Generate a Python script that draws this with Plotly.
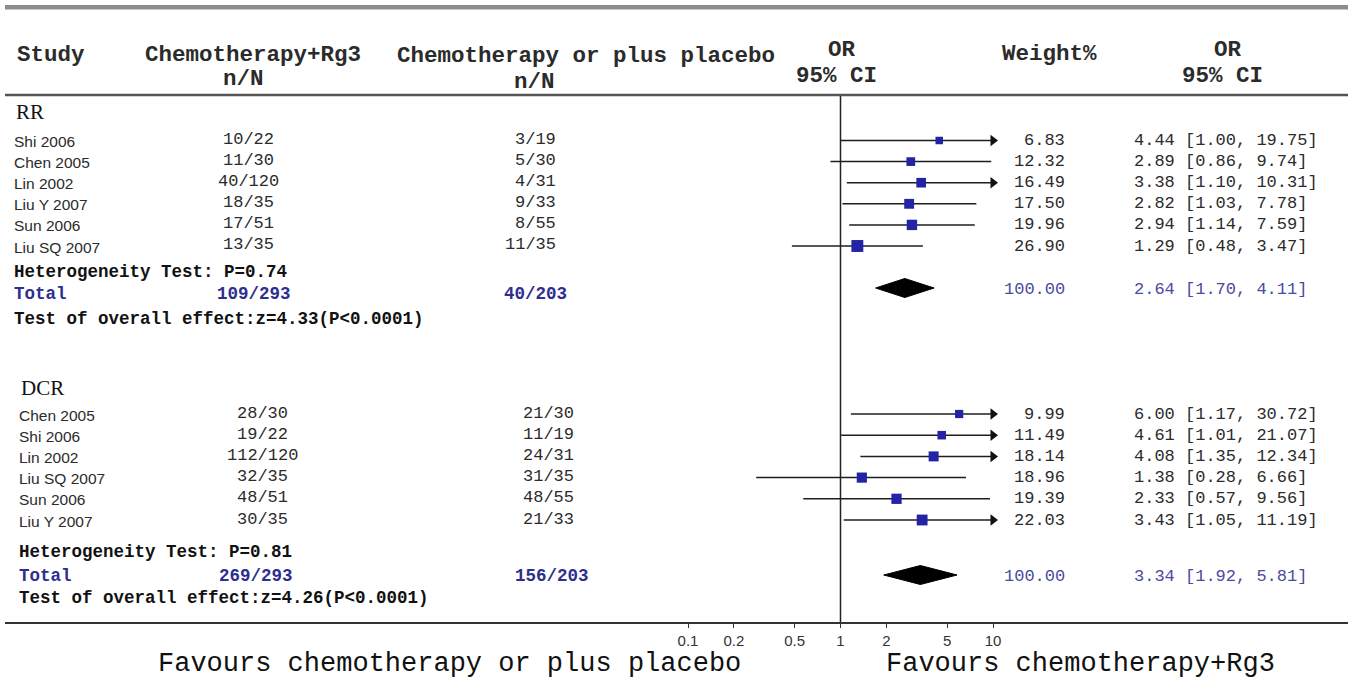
import plotly.graph_objects as go

# ---------------- data ----------------
rr_studies = ["Shi 2006", "Chen 2005", "Lin 2002", "Liu Y 2007", "Sun 2006", "Liu SQ 2007"]
rr_rg3_n = [10, 11, 40, 18, 17, 13]
rr_rg3_N = [22, 30, 120, 35, 51, 35]
rr_ctl_n = [3, 5, 4, 9, 8, 11]
rr_ctl_N = [19, 30, 31, 33, 55, 35]
rr_weight = [6.83, 12.32, 16.49, 17.50, 19.96, 26.90]
rr_or = [4.44, 2.89, 3.38, 2.82, 2.94, 1.29]
rr_lo = [1.00, 0.86, 1.10, 1.03, 1.14, 0.48]
rr_hi = [19.75, 9.74, 10.31, 7.78, 7.59, 3.47]
rr_total_rg3 = "109/293"
rr_total_ctl = "40/203"
rr_total = [2.64, 1.70, 4.11]
rr_het_p = "0.74"
rr_z = "4.33"

dcr_studies = ["Chen 2005", "Shi 2006", "Lin 2002", "Liu SQ 2007", "Sun 2006", "Liu Y 2007"]
dcr_rg3_n = [28, 19, 112, 32, 48, 30]
dcr_rg3_N = [30, 22, 120, 35, 51, 35]
dcr_ctl_n = [21, 11, 24, 31, 48, 21]
dcr_ctl_N = [30, 19, 31, 35, 55, 33]
dcr_weight = [9.99, 11.49, 18.14, 18.96, 19.39, 22.03]
dcr_or = [6.00, 4.61, 4.08, 1.38, 2.33, 3.43]
dcr_lo = [1.17, 1.01, 1.35, 0.28, 0.57, 1.05]
dcr_hi = [30.72, 21.07, 12.34, 6.66, 9.56, 11.19]
dcr_total_rg3 = "269/293"
dcr_total_ctl = "156/203"
dcr_total = [3.34, 1.92, 5.81]
dcr_het_p = "0.81"
dcr_z = "4.26"

tick_vals = [0.1, 0.2, 0.5, 1, 2, 5, 10]
tick_text = ["0.1", "0.2", "0.5", "1", "2", "5", "10"]
x_clip = 10

# ---------------- layout helpers ----------------
W, H = 1348, 683
L_M = 5
AX_Y = 622          # pixel row of the x-axis line
MONO = "Liberation Mono, DejaVu Sans Mono, monospace"
SANS = "Liberation Sans, Arial, sans-serif"
SERIF = "Liberation Serif, Times New Roman, serif"
DARK = "#2b2b2b"
NAVY = "#2e2e8e"
NAVY2 = "#4a4a9e"
SQ = "#2323a6"

annotations = []


def T(text, X, Y, size, family=MONO, color=DARK, bold=False, anchor="left"):
    if bold:
        text = "<b>" + text + "</b>"
    annotations.append(dict(
        text=text, x=(X - L_M) / (W - L_M), y=(AX_Y - Y) / AX_Y,
        xref="paper", yref="paper", xanchor=anchor, yanchor="middle",
        showarrow=False, font=dict(size=size, family=family, color=color)))


fig = go.Figure()

# header
T("Study", 15, 55, 22.5, bold=True)
T("Chemotherapy+Rg3", 253, 55, 22.5, bold=True, anchor="center")
T("n/N", 243, 79, 22.5, bold=True, anchor="center")
T("Chemotherapy or plus placebo", 586, 56, 22.5, bold=True, anchor="center")
T("n/N", 534, 82, 22.5, bold=True, anchor="center")
T("OR", 842, 50, 22.5, bold=True, anchor="center")
T("95% CI", 836, 76, 22.5, bold=True, anchor="center")
T("Weight%", 1049, 54, 22.5, bold=True, anchor="center")
T("OR", 1228, 50, 22.5, bold=True, anchor="center")
T("95% CI", 1222, 76, 22.5, bold=True, anchor="center")

sections = [
    dict(label="RR", label_y=112, name_x=12, y0=140.5, step=21.1,
         studies=rr_studies, rn=rr_rg3_n, rN=rr_rg3_N, cn=rr_ctl_n, cN=rr_ctl_N,
         w=rr_weight, est=rr_or, lo=rr_lo, hi=rr_hi,
         rg3_x=248, rg3_anchor="center", ctl_x=558,
         het_y=272, tot_y=294, tot_rg3=rr_total_rg3, tot_ctl=rr_total_ctl,
         tot_rg3_x=254, tot_ctl_x=535, dia_y=288, total=rr_total,
         het=rr_het_p, z=rr_z, test_y=319),
    dict(label="DCR", label_y=388, name_x=17, y0=414, step=21.2,
         studies=dcr_studies, rn=dcr_rg3_n, rN=dcr_rg3_N, cn=dcr_ctl_n, cN=dcr_ctl_N,
         w=dcr_weight, est=dcr_or, lo=dcr_lo, hi=dcr_hi,
         rg3_x=262, rg3_anchor="center", ctl_x=576,
         het_y=552, tot_y=576, tot_rg3=dcr_total_rg3, tot_ctl=dcr_total_ctl,
         tot_rg3_x=256, tot_ctl_x=552, dia_y=575, total=dcr_total,
         het=dcr_het_p, z=dcr_z, test_y=598),
]

for s in sections:
    T(s["label"], s["name_x"] + 2, s["label_y"], 21, family=SERIF, color="#111")
    ys = [s["y0"] + s["step"] * i for i in range(len(s["studies"]))]
    lx, ly, ax_, ay_ = [], [], [], []
    for i, name in enumerate(s["studies"]):
        y = ys[i]
        T(name, s["name_x"], y + 1, 15.5, family=SANS, color=DARK)
        T(f"{s['rn'][i]}/{s['rN'][i]}", s["rg3_x"], y - 1, 17, color=DARK, anchor=s["rg3_anchor"])
        T(f"{s['cn'][i]}/{s['cN'][i]}", s["ctl_x"], y - 1, 17, color=DARK, anchor="right")
        T(f"{s['w'][i]:.2f}", 1067, y, 17, color=DARK, anchor="right")
        T(f"{s['est'][i]:.2f} [{s['lo'][i]:.2f}, {s['hi'][i]:.2f}]", 1132, y, 17, color=DARK)
        hi_c = min(s["hi"][i], x_clip)
        lx += [s["lo"][i], hi_c, None]
        ly += [y, y, None]
        if s["hi"][i] > x_clip:
            ax_.append(x_clip)
            ay_.append(y)
    T(f"Heterogeneity Test: P={s['het']}", s["name_x"], s["het_y"], 17.5, bold=True, color="#111")
    T("Total", s["name_x"], s["tot_y"], 17.5, bold=True, color=NAVY)
    T(s["tot_rg3"], s["tot_rg3_x"], s["tot_y"], 17.5, bold=True, color=NAVY, anchor="center")
    T(s["tot_ctl"], s["tot_ctl_x"], s["tot_y"], 17.5, bold=True, color=NAVY, anchor="center")
    T(f"Test of overall effect:z={s['z']}(P<0.0001)", s["name_x"], s["test_y"], 17.5, bold=True, color="#111")
    est, lo, hi = s["total"]
    T("100.00", 1067, s["dia_y"] + 1, 17, color=NAVY2, anchor="right")
    T(f"{est:.2f} [{lo:.2f}, {hi:.2f}]", 1132, s["dia_y"] + 1, 17, color=NAVY2)

    fig.add_trace(go.Scatter(x=lx, y=ly, mode="lines",
                             line=dict(color="#1e1e1e", width=1.5), hoverinfo="skip"))
    if ax_:
        fig.add_trace(go.Scatter(x=ax_, y=ay_, mode="markers",
                                 marker=dict(symbol="triangle-right", size=10, color="#111"),
                                 hoverinfo="skip"))
    fig.add_trace(go.Scatter(x=s["est"], y=ys, mode="markers",
                             marker=dict(symbol="square", color=SQ, opacity=1,
                                         size=[6 + 0.22 * w for w in s["w"]],
                                         line=dict(width=0)),
                             hoverinfo="skip"))
    dy = s["dia_y"]
    fig.add_trace(go.Scatter(x=[lo, est, hi, est, lo], y=[dy, dy - 9.5, dy, dy + 9.5, dy],
                             mode="lines", fill="toself", fillcolor="#000",
                             line=dict(color="#000", width=1), hoverinfo="skip"))

# line of no effect
fig.add_trace(go.Scatter(x=[1, 1], y=[96, AX_Y], mode="lines",
                         line=dict(color="#222", width=1.5), hoverinfo="skip"))

# bottom labels
T("Favours chemotherapy or plus placebo", 450, 664, 27, color="#111", anchor="center")
T("Favours chemotherapy+Rg3", 1080, 664, 27, color="#111", anchor="center")

shapes = [
    dict(type="rect", xref="paper", yref="y", x0=0, x1=1, y0=5, y1=9.5,
         fillcolor="#8c8c8c", line=dict(width=0)),
    dict(type="line", xref="paper", yref="y", x0=0, x1=1, y0=95, y1=95,
         line=dict(color="#555", width=2.5)),
]

# x-axis: 152.5 px per decade, 0.1 at x=688 px
px_dec = 152.5
r0 = -1 - (688 - L_M) / px_dec
r1 = r0 + (W - L_M) / px_dec

fig.update_layout(
    width=W, height=H, autosize=False,
    margin=dict(l=L_M, r=0, t=0, b=H - AX_Y),
    paper_bgcolor="white", plot_bgcolor="white",
    showlegend=False,
    annotations=annotations, shapes=shapes,
    xaxis=dict(type="log", range=[r0, r1], tickvals=tick_vals, ticktext=tick_text,
               showgrid=False, zeroline=False, showline=True, linecolor="#333",
               linewidth=2, ticks="outside", ticklen=4, tickwidth=1, tickcolor="#333",
               tickfont=dict(family=SANS, size=15, color="#333"), fixedrange=True),
    yaxis=dict(range=[AX_Y, 0], visible=False, showgrid=False, zeroline=False,
               fixedrange=True),
)

fig.write_html("out.html", config={"displayModeBar": False},
               post_script="document.body.style.margin='0px';document.body.style.overflow='hidden';")
